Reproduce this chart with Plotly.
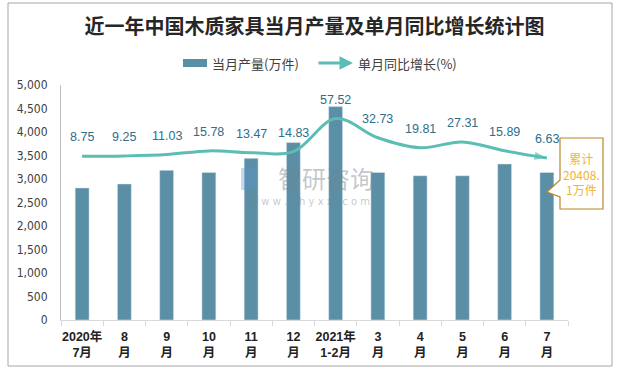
import plotly.graph_objects as go

# ---- data ----
categories = ["2020年<br>7月", "8<br>月", "9<br>月", "10<br>月", "11<br>月", "12<br>月",
              "2021年<br>1-2月", "3<br>月", "4<br>月", "5<br>月", "6<br>月", "7<br>月"]
production = [2810, 2895, 3185, 3140, 3440, 3775, 4540, 3140, 3070, 3070, 3320, 3140]
growth = [8.75, 9.25, 11.03, 15.78, 13.47, 14.83, 57.52, 32.73, 19.81, 27.31, 15.89, 6.63]
growth_labels = ["8.75", "9.25", "11.03", "15.78", "13.47", "14.83", "57.52", "32.73",
                 "19.81", "27.31", "15.89", "6.63"]
y_ticks = [0, 500, 1000, 1500, 2000, 2500, 3000, 3500, 4000, 4500, 5000]
title_text = "近一年中国木质家具当月产量及单月同比增长统计图"
bar_name = "当月产量(万件)"
line_name = "单月同比增长(%)"
callout_text = "累计<br>20408.<br>1万件"

W, H = 620, 370
L, R, T, B = 61, 568, 85, 320

def px(x):
    return (x - L) / (R - L)

def py(y):
    return (B - y) / (B - T)

BAR = "#5B8FA6"
LINE = "#5CBDB4"
LBL = "#2D6E8A"
GOLD = "#F2B431"

n = len(categories)
sym = ["circle"] + ["circle"] * (n - 2) + ["arrow"]
sizes = [10] + [0] * (n - 2) + [13]
mcolors = [GOLD] + [LINE] * (n - 2) + [LINE]

fig = go.Figure()
fig.add_trace(go.Bar(x=categories, y=production, name=bar_name,
                     marker=dict(color=BAR), width=0.33, showlegend=False))
fig.add_trace(go.Scatter(x=categories, y=growth, name=line_name, yaxis="y2",
                         mode="lines+markers", showlegend=False,
                         line=dict(color=LINE, width=3, shape="spline", smoothing=1.0),
                         marker=dict(symbol=sym, size=sizes, color=mcolors,
                                     angleref="previous", line=dict(width=0))))

annotations = []
for c, g, t in zip(categories, growth, growth_labels):
    annotations.append(dict(x=c, y=g, yref="y2", text=t, showarrow=False,
                            xanchor="center", yanchor="middle",
                            yshift=19, font=dict(size=12.5, color=LBL,
                                                 family="Liberation Sans, Noto Sans CJK SC")))

# custom legend
annotations.append(dict(xref="paper", yref="paper", x=px(210), y=py(63), xanchor="left",
                        yanchor="middle", text=bar_name, showarrow=False,
                        font=dict(size=13, color="#404040", family="Noto Sans CJK SC")))
annotations.append(dict(xref="paper", yref="paper", x=px(356), y=py(63), xanchor="left",
                        yanchor="middle", text=line_name, showarrow=False,
                        font=dict(size=13, color="#404040", family="Noto Sans CJK SC")))
annotations.append(dict(xref="paper", yref="paper", x=px(353), y=py(63), text="",
                        showarrow=True, ax=-36, ay=0, arrowhead=2, arrowsize=0.9,
                        arrowwidth=3, arrowcolor=LINE))

# callout box text
annotations.append(dict(xref="paper", yref="paper", x=px(581.5), y=py(174), text=callout_text,
                        showarrow=False, align="center", xanchor="center", yanchor="middle",
                        font=dict(size=12, color=GOLD, family="Noto Sans CJK SC, Liberation Sans")))
# watermark
annotations.append(dict(xref="paper", yref="paper", x=px(326), y=py(177), text="智研咨询",
                        showarrow=False, xanchor="center", yanchor="middle",
                        font=dict(size=24, color="rgba(120,130,140,0.45)",
                                  family="Noto Sans CJK SC")))
annotations.append(dict(xref="paper", yref="paper", x=px(310), y=py(201),
                        text="w w w . c h y x x . c o m", showarrow=False,
                        xanchor="center", yanchor="middle",
                        font=dict(size=10, color="rgba(120,130,140,0.45)", family="DejaVu Sans")))

shapes = [
    dict(type="rect", xref="paper", yref="paper", x0=px(8), x1=px(612), y0=py(366), y1=py(3),
         line=dict(color="#A6A6A6", width=1), fillcolor="rgba(0,0,0,0)", layer="below"),
    dict(type="path", xref="paper", yref="paper",
         path=(f"M {px(560)},{py(138)} L {px(603)},{py(138)} L {px(603)},{py(209)} "
               f"L {px(560)},{py(209)} L {px(560)},{py(197)} L {px(547)},{py(192)} "
               f"L {px(560)},{py(180)} Z"),
         line=dict(color="#B8862B", width=1.2), fillcolor="white", layer="above"),
    dict(type="rect", xref="paper", yref="paper", x0=px(241), x1=px(256), y0=py(190), y1=py(168),
         line=dict(width=0), fillcolor="rgba(90,150,200,0.35)", layer="above"),
    dict(type="rect", xref="paper", yref="paper", x0=px(183), x1=px(207), y0=py(67), y1=py(59),
         line=dict(width=0), fillcolor=BAR, layer="above"),
]

fig.update_layout(
    width=W, height=H,
    margin=dict(l=L, r=W - R, t=T, b=H - B, autoexpand=False),
    paper_bgcolor="white", plot_bgcolor="white",
    title=dict(text="<b>" + title_text + "</b>", x=0.5, xref="paper", xanchor="center",
               y=1 - 27 / H, yanchor="middle",
               font=dict(size=20, color="#262626", family="Noto Sans CJK SC")),
    showlegend=False,
    bargap=0.66,
    xaxis=dict(type="category", range=[-0.5, n - 0.5], showline=True, linecolor="#D9D9D9",
               linewidth=1, ticks="outside", tickson="boundaries", ticklen=5,
               tickcolor="#D9D9D9", ticklabelstandoff=5,
               tickfont=dict(size=12.5, color="#222222", family="Liberation Sans, Noto Sans CJK SC",
                             weight="bold"),
               showgrid=False, zeroline=False, tickangle=0, automargin=False),
    yaxis=dict(range=[0, 5000], tickvals=y_ticks, tickformat=",", showgrid=False,
               showline=True, linecolor="#BFBFBF", linewidth=1, zeroline=False,
               ticks="", ticklabelstandoff=10, automargin=False,
               tickfont=dict(size=12, color="#404040", family="DejaVu Sans Condensed, DejaVu Sans")),
    yaxis2=dict(overlaying="y", side="right", range=[-203, 101], visible=False, showgrid=False),
    annotations=annotations,
    shapes=shapes,
)

fig.write_html("out.html", config={"displayModeBar": False},
               post_script="document.body.style.margin='0';document.body.style.overflow='hidden';")
